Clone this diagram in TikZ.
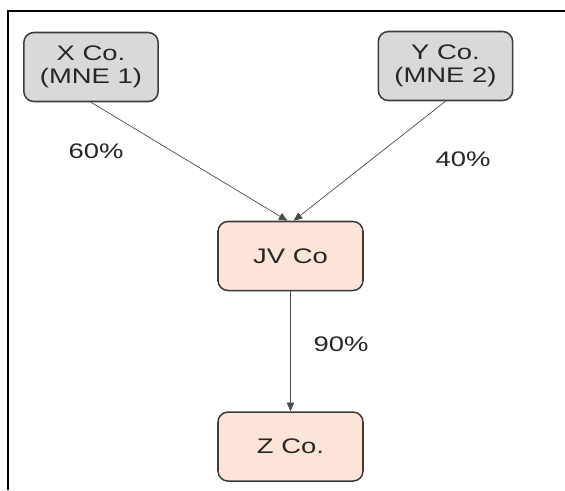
\documentclass[tikz,border=0pt]{standalone}
\usepackage{fontspec}
\setmainfont{Liberation Sans}[FakeStretch=1.3]
\usepackage{xcolor}
\usetikzlibrary{arrows.meta,positioning}
\definecolor{boxgray}{HTML}{D9D9D9}
\definecolor{boxpeach}{HTML}{FCE4D8}
\definecolor{edgegray}{HTML}{3C3C3C}
\definecolor{txtgray}{HTML}{262626}
\tikzset{
  co/.style={draw=edgegray,line width=1.3pt,rounded corners=0.3cm,
             minimum height=2.07cm,align=center,text=txtgray,
             font=\fontsize{18}{20}\selectfont},
  mne/.style={co,fill=boxgray,minimum width=4.03cm},
  sub/.style={co,fill=boxpeach,minimum width=4.35cm},
  pct/.style={text=txtgray,font=\fontsize{18}{20}\selectfont},
  arr/.style={-{Triangle[length=0.26cm,width=0.22cm]},draw=gray!60!black,line width=0.6pt},
}
\begin{document}
\begin{tikzpicture}[x=0.03cm,y=-0.03cm]
  \useasboundingbox (0,0) rectangle (565,490);
  %% frame
  \draw[line width=2pt,black] (8,490) -- (8,11) -- (565,11);
  %% owners
  \node[mne] (xco) at (91,67)    {X Co.\\(MNE 1)};
  \node[mne] (yco) at (445.5,66) {Y Co.\\(MNE 2)};
  %% joint venture and subsidiary
  \node[sub] (jv) at (290.5,256) {JV Co};
  \node[sub,below=3.6cm of jv] (zco) {Z Co.};
  %% shares
  \node[pct] (l60) at (96,151)  {60\%};
  \node[pct] (l40) at (463,159) {40\%};
  \node[pct] (l90) at (341,344) {90\%};
  %% edges
  \draw[arr] (xco.south) -- (jv.95);
  \draw[arr] (yco.south) -- (jv.85);
  \draw[arr] (jv.south) -- (zco.north);
\end{tikzpicture}
\end{document}
